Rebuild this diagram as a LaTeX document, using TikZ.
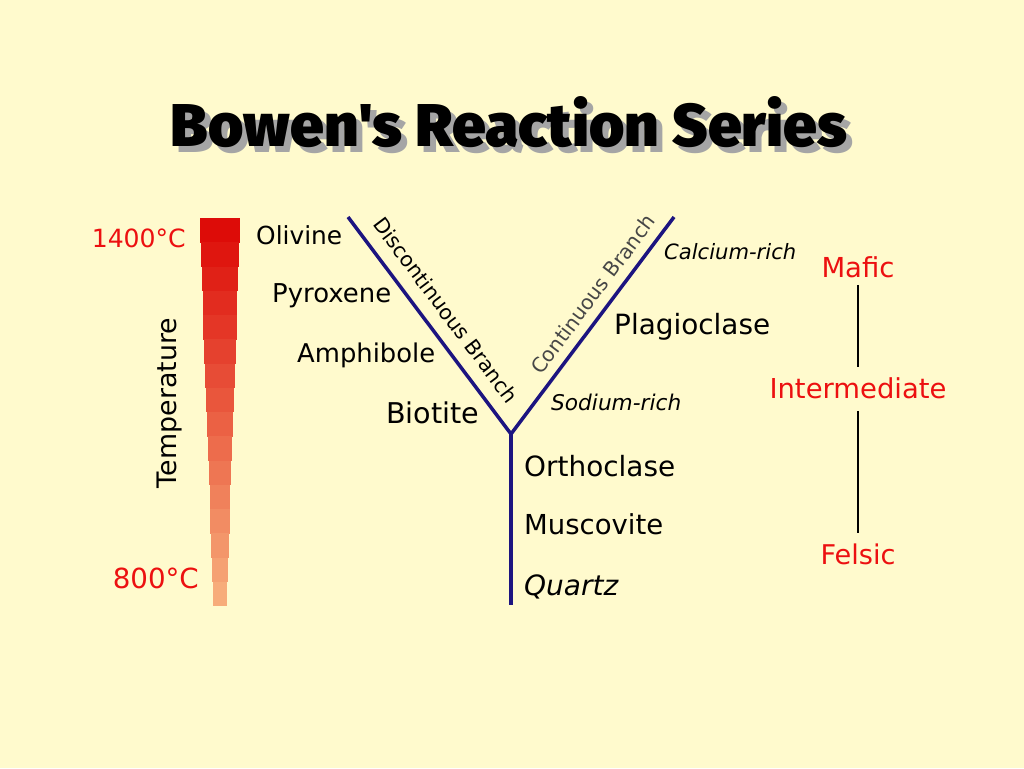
\documentclass[tikz,border=0pt]{standalone}
\usepackage{fontspec}
\usepackage{graphicx}
\setmainfont{DejaVu Sans}
\newfontfamily\titlefont{Fira Sans Black}
\definecolor{bg}{RGB}{255,250,205}
\definecolor{navy}{RGB}{28,20,128}
\definecolor{redtxt}{RGB}{236,16,16}
\definecolor{shadowgray}{RGB}{165,165,165}
\definecolor{bartop}{RGB}{221,12,8}
\definecolor{barbot}{RGB}{247,172,122}
\definecolor{branchgray}{RGB}{70,70,70}
\newcommand{\fw}[2]{\resizebox{#1pt}{!}{#2}}
\tikzset{
  lbl/.style={inner sep=0pt, text=black},
  redlbl/.style={inner sep=0pt, text=redtxt},
  branch/.style={line width=3.5pt, draw=navy, line join=miter},
  scale line/.style={line width=2.5pt, draw=black},
}
\begin{document}
\begin{tikzpicture}[x=1pt,y=-1pt]
\useasboundingbox[fill=bg] (0,0) rectangle (1024,768);
% title
\node[inner sep=0pt, text=shadowgray] (titleshadow) at (515,128) {\resizebox{676pt}{50pt}{\titlefont Bowen's Reaction Series}};
\node[inner sep=0pt, text=black] (title) at (509,122) {\resizebox{676pt}{50pt}{\titlefont Bowen's Reaction Series}};
% temperature bar
\foreach \i in {0,...,15}{
  \pgfmathsetmacro{\ya}{218+\i*24.25}
  \pgfmathsetmacro{\yb}{\ya+24.6}
  \pgfmathsetmacro{\xl}{200+13*\i/15}
  \pgfmathsetmacro{\xr}{240-13*\i/15}
  \pgfmathtruncatemacro{\p}{100*\i/15}
  \fill[barbot!\p!bartop] (\xl,\ya) rectangle (\xr,\yb);
}
\node[redlbl, anchor=east] (t1400) at (186,238) {\fw{94}{1400°C}};
\node[redlbl, anchor=east] (t800) at (199,578) {\fw{86}{800°C}};
\node[lbl, rotate=90] (temp) at (170,403) {\fw{170}{Temperature}};
% Y diagram
\coordinate (lt) at (348,217);
\coordinate (rt) at (674,217);
\coordinate (jn) at (511,434);
\coordinate (bt) at (511,605);
\draw[branch] (lt) -- (jn) -- (rt);
\draw[branch] (jn) -- (bt);
\node[lbl, rotate=-53.1] (disc) at (446,310) {\fw{225}{Discontinuous Branch}};
\node[inner sep=0pt, text=branchgray, rotate=53.1] (cont) at (593,294) {\fw{192}{Continuous Branch}};
% minerals
\node[lbl, anchor=west] (olivine) at (256,235) {\fw{86}{Olivine}};
\node[lbl, anchor=west] (pyroxene) at (272,296) {\fw{119}{Pyroxene}};
\node[lbl, anchor=west] (amphibole) at (297,355) {\fw{138}{Amphibole}};
\node[lbl, anchor=west] (biotite) at (386,413) {\fw{93}{Biotite}};
\node[lbl, anchor=west] (orthoclase) at (524,466) {\fw{151}{Orthoclase}};
\node[lbl, anchor=west] (muscovite) at (524,524) {\fw{139}{Muscovite}};
\node[lbl, anchor=west] (quartz) at (524,587) {\fw{94}{\itshape Quartz}};
\node[lbl, anchor=west] (plagioclase) at (614,327) {\fw{156}{Plagioclase}};
\node[lbl, anchor=west] (calcium) at (664,252) {\fw{132}{\itshape Calcium-rich}};
\node[lbl, anchor=west] (sodium) at (551,402) {\fw{130}{\itshape Sodium-rich}};
% right scale
\node[redlbl] (mafic) at (858,267) {\fw{73}{Mafic}};
\node[redlbl] (inter) at (858,388) {\fw{177}{Intermediate}};
\node[redlbl] (felsic) at (858,554) {\fw{75}{Felsic}};
\draw[scale line, shorten <=7pt, shorten >=10pt] (mafic) -- (inter);
\draw[scale line, shorten <=12pt, shorten >=10pt] (inter) -- (felsic);
\end{tikzpicture}
\end{document}
